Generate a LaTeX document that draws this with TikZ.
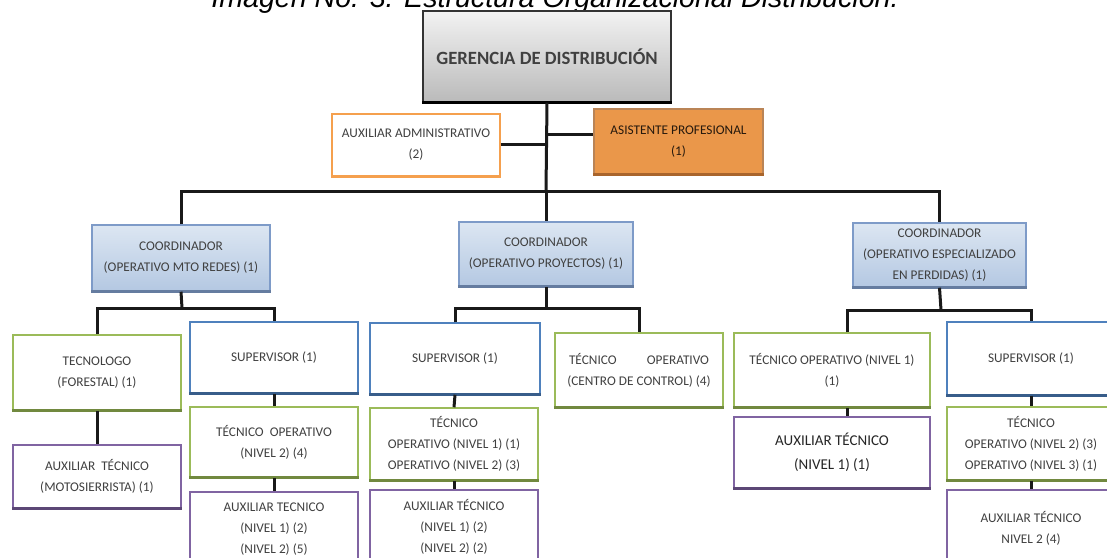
\documentclass[tikz,border=0pt]{standalone}
\usepackage{fontspec}
\setmainfont{Carlito}
\newfontfamily\titlefont{Liberation Sans}
\definecolor{cblue}{HTML}{4F81BD}
\definecolor{cblued}{HTML}{385D8A}
\definecolor{cgreen}{HTML}{9BBB59}
\definecolor{cgreend}{HTML}{71893F}
\definecolor{cpurple}{HTML}{8064A2}
\definecolor{cpurpled}{HTML}{5C4776}
\definecolor{corange}{HTML}{F5A04E}
\definecolor{corangef}{HTML}{EA974A}
\definecolor{coranged}{HTML}{A9652C}
\definecolor{ccoordt}{HTML}{DCE6F2}
\definecolor{ccoordb}{HTML}{B4C8E2}
\definecolor{ccoordl}{HTML}{7E9BC8}
\definecolor{ctext}{HTML}{404040}
\newcommand\orgbox[8]{%
  \node[#6, minimum width={(#4)-(#2)}, minimum height={(#5)-(#3)}] (#1) at ({((#2)+(#4))/2},{((#3)+(#5))/2}) {#8};
  \draw[line width=3pt, draw=#7] (#1.south west) -- (#1.south east);}
\begin{document}
\begin{tikzpicture}[x=1pt,y=-1pt,
  base/.style={inner sep=0pt, align=center, text=ctext, font=\fontsize{13.3}{21}\selectfont, line width=1.5pt},
  bluebox/.style={base, draw=cblue, fill=white},
  greenbox/.style={base, draw=cgreen, fill=white},
  purplebox/.style={base, draw=cpurple, fill=white},
  orangebox/.style={base, draw=corange, fill=white},
  asibox/.style={base, draw=coranged!80, fill=corangef, text=black!80!brown},
  coordbox/.style={base, draw=ccoordl, top color=ccoordt, bottom color=ccoordb},
  gerbox/.style={base, draw=black!80, line width=1.2pt, top color=black!5, bottom color=black!27, font=\fontsize{18.7}{20}\selectfont\bfseries},
  conn/.style={line width=3pt, draw=black!90}]
\useasboundingbox (0,0) rectangle (1107,557);
\fill[white] (0,0) rectangle (1107,557);
\node[font=\titlefont\itshape\fontsize{28.6}{28.6}\selectfont, text=black, anchor=base, inner sep=0pt] (title) at (555,7.5) {Imagen No. 3. Estructura Organizacional Distribución.};
\coordinate (b0) at (546,191);
\coordinate (sb1) at (182,308);
\coordinate (sb2) at (546,308);
\coordinate (sb3) at (941,310);
\coordinate (k3) at (847,310);
\coordinate (ja) at (546,144);
\coordinate (jb) at (546,134);
% boxes
\orgbox{ger}{423}{11}{671}{102}{gerbox}{black}{GERENCIA DE DISTRIBUCIÓN}
\orgbox{aux}{332}{114}{500}{176}{orangebox}{corange}{AUXILIAR ADMINISTRATIVO\\(2)}
\orgbox{asi}{594}{109}{763}{174}{asibox}{coranged}{ASISTENTE PROFESIONAL\\(1)}
\orgbox{c1}{92}{225}{270}{291}{coordbox}{ccoordl!80!black}{COORDINADOR\\(OPERATIVO MTO REDES) (1)}
\orgbox{c2}{459}{222}{633}{286}{coordbox}{ccoordl!80!black}{COORDINADOR\\(OPERATIVO PROYECTOS) (1)}
\orgbox{c3}{853}{223}{1026}{287}{coordbox}{ccoordl!80!black}{COORDINADOR\\(OPERATIVO ESPECIALIZADO\\EN PERDIDAS) (1)}
\orgbox{tec}{13}{335}{181}{410}{greenbox}{cgreend}{TECNOLOGO\\(FORESTAL) (1)}
\orgbox{amot}{13}{445}{181}{508}{purplebox}{cpurpled}{AUXILIAR \ TÉCNICO\\(MOTOSIERRISTA) (1)}
\orgbox{s1}{190}{322}{358}{393}{bluebox}{cblued}{SUPERVISOR (1)}
\orgbox{to1}{190}{407}{358}{477}{greenbox}{cgreend}{TÉCNICO \ OPERATIVO\\(NIVEL 2) (4)}
\orgbox{at1}{190}{492}{358}{566}{purplebox}{cpurpled}{AUXILIAR TECNICO\\(NIVEL 1) (2)\\(NIVEL 2) (5)}
\orgbox{s2}{370}{323}{540}{394}{bluebox}{cblued}{SUPERVISOR (1)}
\orgbox{tcc}{555}{333}{723}{407}{greenbox}{cgreend}{\makebox[140pt]{TÉCNICO\hfill OPERATIVO}\\(CENTRO DE CONTROL) (4)}
\orgbox{to2}{370}{408}{538}{480}{greenbox}{cgreend}{TÉCNICO\\OPERATIVO (NIVEL 1) (1)\\OPERATIVO (NIVEL 2) (3)}
\orgbox{at2}{370}{490}{538}{564}{purplebox}{cpurpled}{AUXILIAR TÉCNICO\\(NIVEL 1) (2)\\(NIVEL 2) (2)}
\orgbox{to3}{734}{333}{930}{407}{greenbox}{cgreend}{TÉCNICO OPERATIVO (NIVEL 1)\\(1)}
\orgbox{at3}{734}{417}{930}{488}{purplebox,font=\fontsize{15}{24}\selectfont,text=black!85}{cpurpled}{AUXILIAR TÉCNICO\\(NIVEL 1) (1)}
\orgbox{s3}{947}{322}{1115}{395}{bluebox}{cblued}{SUPERVISOR (1)}
\orgbox{to4}{947}{407}{1115}{480}{greenbox}{cgreend}{TÉCNICO\\OPERATIVO (NIVEL 2) (3)\\OPERATIVO (NIVEL 3) (1)}
\orgbox{at4}{947}{490}{1115}{566}{purplebox}{cpurpled}{AUXILIAR TÉCNICO\\NIVEL 2 (4)}
% connectors
\draw[conn] (ger.south) -- (b0);
\draw[conn] (aux.east |- ja) -- (ja);
\draw[conn] (jb) -- (asi.west |- jb);
\draw[conn] (c1.north) |- (b0) -| (c3.north);
\draw[conn] (b0) -- (c2.north);
\draw[conn] (c1.south) -- (sb1);
\draw[conn] (tec.north) |- (sb1) -| (s1.north);
\draw[conn] (c2.south) -- (sb2);
\draw[conn] (s2.north) |- (sb2) -| (tcc.north);
\draw[conn] (c3.south) -- (sb3);
\draw[conn] (k3 |- to3.north) -- (k3) -- (sb3) -| (s3.north);
\draw[conn] (tec.south) -- (amot.north);
\draw[conn] (s1.south) -- (to1.north);
\draw[conn] (to1.south) -- (at1.north);
\draw[conn] (s2.south) -- (to2.north);
\draw[conn] (to2.south) -- (at2.north);
\draw[conn] (k3 |- to3.south) -- (k3 |- at3.north);
\draw[conn] (s3.south) -- (to4.north);
\draw[conn] (to4.south) -- (at4.north);
\end{tikzpicture}
\end{document}
